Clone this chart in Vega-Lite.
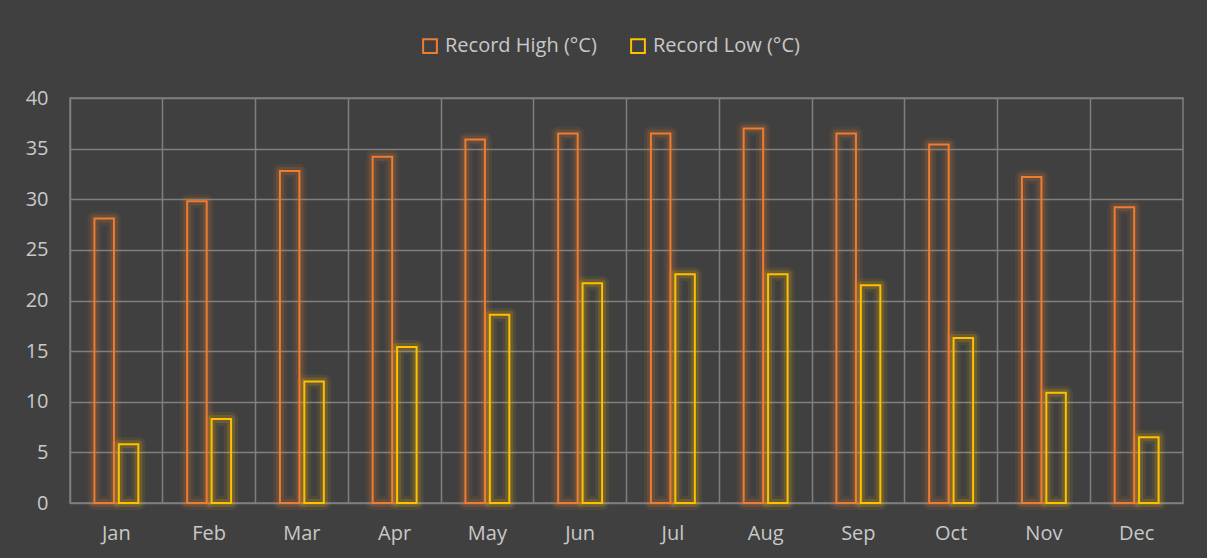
{
  "$schema": "https://vega.github.io/schema/vega-lite/v6.json",
  "width": 1113,
  "height": 405,
  "autosize": {"type": "none"},
  "padding": {"left": 70, "top": 98, "right": 24, "bottom": 55},
  "background": "#404040",
  "config": {
    "font": "Open Sans",
    "view": {"stroke": "#7f7f7f", "strokeWidth": 1.5},
    "axis": {"labelColor": "#c8c8c8", "labelFont": "Open Sans", "gridColor": "#7f7f7f", "gridWidth": 1.5, "gridOpacity": 1, "domain": false, "ticks": false, "title": null}
  },
  "data": {"values": [
    {"month": "Jan", "series": "Record High (°C)", "value": 28.1},
    {"month": "Jan", "series": "Record Low (°C)", "value": 5.8},
    {"month": "Feb", "series": "Record High (°C)", "value": 29.8},
    {"month": "Feb", "series": "Record Low (°C)", "value": 8.3},
    {"month": "Mar", "series": "Record High (°C)", "value": 32.8},
    {"month": "Mar", "series": "Record Low (°C)", "value": 12.0},
    {"month": "Apr", "series": "Record High (°C)", "value": 34.2},
    {"month": "Apr", "series": "Record Low (°C)", "value": 15.4},
    {"month": "May", "series": "Record High (°C)", "value": 35.9},
    {"month": "May", "series": "Record Low (°C)", "value": 18.6},
    {"month": "Jun", "series": "Record High (°C)", "value": 36.5},
    {"month": "Jun", "series": "Record Low (°C)", "value": 21.7},
    {"month": "Jul", "series": "Record High (°C)", "value": 36.5},
    {"month": "Jul", "series": "Record Low (°C)", "value": 22.6},
    {"month": "Aug", "series": "Record High (°C)", "value": 37.0},
    {"month": "Aug", "series": "Record Low (°C)", "value": 22.6},
    {"month": "Sep", "series": "Record High (°C)", "value": 36.5},
    {"month": "Sep", "series": "Record Low (°C)", "value": 21.5},
    {"month": "Oct", "series": "Record High (°C)", "value": 35.4},
    {"month": "Oct", "series": "Record Low (°C)", "value": 16.3},
    {"month": "Nov", "series": "Record High (°C)", "value": 32.2},
    {"month": "Nov", "series": "Record Low (°C)", "value": 10.9},
    {"month": "Dec", "series": "Record High (°C)", "value": 29.2},
    {"month": "Dec", "series": "Record Low (°C)", "value": 6.5}
  ]},
  "encoding": {
    "x": {
      "field": "month", "type": "nominal", "sort": null,
      "scale": {"paddingInner": 0, "paddingOuter": 0},
      "axis": {"labelAngle": 0, "bandPosition": 0, "grid": true, "labelFontSize": 20, "labelPadding": 30, "labelBaseline": "middle", "labelOffset": 0}
    },
    "xOffset": {
      "field": "series", "type": "nominal",
      "scale": {"paddingInner": 0.2, "paddingOuter": 1.21}
    },
    "y": {
      "field": "value", "type": "quantitative",
      "scale": {"domain": [0, 40], "nice": false},
      "axis": {"values": [0, 5, 10, 15, 20, 25, 30, 35, 40], "grid": true, "labelFontSize": 20, "labelPadding": 22}
    },
    "stroke": {"field": "series", "type": "nominal", "scale": {"domain": ["Record High (°C)", "Record Low (°C)"], "range": ["#ED7D31", "#FFC000"]},
      "legend": {"title": null, "orient": "none", "direction": "horizontal", "legendX": 350, "legendY": -62,
        "symbolType": "square", "symbolSize": 190, "symbolStrokeWidth": 2, "symbolFillColor": "transparent",
        "labelFontSize": 20, "labelColor": "#c8c8c8", "labelFont": "Open Sans", "columnPadding": 30, "labelOffset": 5}}
  },
  "layer": [
    {
      "mark": {"type": "bar", "strokeWidth": 14, "strokeOpacity": 0.08, "fill": "transparent", "strokeJoin": "round"}
    },
    {
      "mark": {"type": "bar", "strokeWidth": 8, "strokeOpacity": 0.16, "fill": "transparent", "strokeJoin": "round"}
    },
    {
      "mark": {"type": "bar", "strokeWidth": 2, "fill": "transparent"}
    }
  ]
}
